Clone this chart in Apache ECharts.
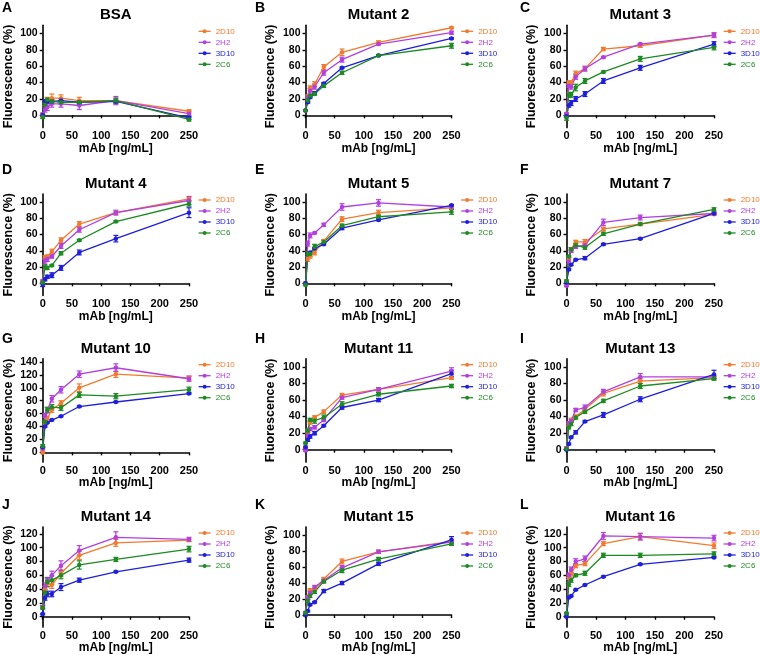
<!DOCTYPE html>
<html><head><meta charset="utf-8">
<script src="https://cdn.jsdelivr.net/npm/echarts@6/dist/echarts.min.js"></script>
<style>html,body{margin:0;padding:0;background:#fff}#c{width:760px;height:655px}</style>
</head><body><div id="c"></div>
<script>
const doses = [0, 3.9, 7.8, 15.6, 31.25, 62.5, 125, 250];
const antibodies = ['2D10', '2H2', '3D10', '2C6'];
const abColors = ['#F27A2E', '#B23FDF', '#1E1EDC', '#1D8A22'];
const panelTitles = ['BSA', 'Mutant 2', 'Mutant 3', 'Mutant 4', 'Mutant 5', 'Mutant 7', 'Mutant 10', 'Mutant 11', 'Mutant 13', 'Mutant 14', 'Mutant 15', 'Mutant 16'];
const panelLetters = ['A', 'B', 'C', 'D', 'E', 'F', 'G', 'H', 'I', 'J', 'K', 'L'];
const yTicks100 = [0, 20, 40, 60, 80, 100];
const yTicks120 = [0, 20, 40, 60, 80, 100, 120];
const yTicks140 = [0, 20, 40, 60, 80, 100, 120, 140];
const xTicks = [0, 50, 100, 150, 200, 250];
const yMin = -15;
const yMaxes = [110, 110, 110, 110, 110, 110, 145, 110, 110, 130, 110, 130];
const yTickSets = [yTicks100, yTicks100, yTicks100, yTicks100, yTicks100, yTicks100, yTicks140, yTicks100, yTicks100, yTicks120, yTicks100, yTicks120];

// means per panel: rows = 2D10, 2H2, 3D10, 2C6
const bsaMean = [[0,15,18,21,21,18,18,5],[1,7,10,14,14,12,18,2],[0,17,17,17,18,16,17,-3],[-2,13,19,17,16,16,18,-5]];
const bsaErr  = [[2,3,4,5,4,4,3,2],[2,3,4,4,4,5,5,3],[1,2,2,2,2,2,2,2],[2,2,2,2,2,2,3,2]];
const m2Mean  = [[6,23,33,38,59,77,89,107],[6,22,30,35,52,68,87,101],[6,16,22,27,39,58,73,94],[6,18,24,26,36,52,73,85]];
const m2Err   = [[1,2,3,3,3,4,2,1],[1,2,3,3,3,3,1,2],[1,1,1,2,1,1,1,1],[1,1,1,1,2,2,1,3]];
const m3Mean  = [[2,40,40,51,57,81,85,98],[2,36,35,47,57,71,87,98],[-1,12,15,20,26,42,58,87],[-3,25,25,34,42,53,69,83]];
const m3Err   = [[1,2,2,3,2,2,2,2],[1,2,3,3,3,1,1,3],[1,2,3,3,3,3,3,3],[3,3,3,4,3,1,3,3]];
const m4Mean  = [[3,32,33,39,53,73,87,104],[3,28,30,33,46,66,87,102],[-2,5,8,10,19,38,55,87],[1,20,19,22,37,53,76,98]];
const m4Err   = [[1,2,2,3,3,3,2,2],[1,3,3,2,3,3,3,5],[2,2,2,3,3,3,4,6],[1,3,2,1,2,1,1,3]];
const m5Mean  = [[0,30,34,38,52,79,87,93],[0,49,59,62,72,94,99,94],[0,36,38,43,48,68,78,96],[-2,36,36,45,51,71,82,88]];
const m5Err   = [[1,3,3,3,2,3,3,2],[1,3,3,1,2,4,4,2],[1,1,1,1,1,2,1,1],[1,3,3,3,2,2,2,3]];
const m7Mean  = [[3,30,42,51,51,67,73,85],[-3,27,40,45,47,75,81,86],[1,17,23,29,31,48,55,86],[3,33,42,47,44,61,73,91]];
const m7Err   = [[1,2,2,2,3,2,2,1],[1,3,2,2,2,4,3,2],[1,1,1,1,2,1,1,1],[1,1,2,2,2,2,1,2]];
const m10Mean = [[0,45,52,66,76,100,121,115],[6,57,65,83,97,121,131,114],[8,40,46,50,56,71,78,91],[10,47,66,70,69,89,87,97]];
const m10Err  = [[2,3,4,4,4,6,5,3],[2,3,4,5,5,5,6,4],[1,1,1,1,1,1,1,1],[2,3,4,4,4,4,4,4]];
const m11Mean = [[3,22,33,39,46,66,73,87],[-1,17,25,27,36,63,73,95],[3,12,16,20,29,51,60,92],[8,23,36,35,39,55,67,77]];
const m11Err  = [[1,2,2,2,2,2,2,2],[1,2,2,2,2,2,2,4],[1,2,2,2,1,2,2,4],[1,2,2,3,3,3,2,2]];
const m13Mean = [[2,30,36,40,49,68,83,87],[2,32,35,48,51,70,88,88],[0,7,15,21,34,42,61,91],[1,27,31,39,46,59,77,86]];
const m13Err  = [[1,2,2,2,2,3,3,2],[1,2,2,2,3,3,4,2],[1,1,1,2,1,3,3,5],[1,2,2,2,2,2,3,2]];
const m14Mean = [[14,40,48,46,63,89,107,111],[14,44,52,60,74,96,115,112],[4,27,33,33,43,53,65,82],[13,35,50,53,60,75,83,98]];
const m14Err  = [[2,4,5,5,5,6,5,2],[2,5,5,6,7,7,8,3],[1,3,4,4,5,3,1,3],[2,5,6,6,5,6,3,4]];
const m15Mean = [[3,22,31,32,45,67,79,92],[3,22,28,35,43,59,79,91],[0,5,13,16,30,40,64,94],[3,18,24,29,42,56,70,89]];
const m15Err  = [[1,2,2,2,2,3,2,2],[1,2,2,2,2,3,2,2],[1,1,1,1,2,2,2,4],[1,2,2,2,2,3,2,2]];
const m16Mean = [[5,57,62,74,77,106,116,103],[5,60,68,80,84,117,116,114],[0,28,30,39,46,58,76,86],[5,47,53,60,63,89,89,91]];
const m16Err  = [[1,3,3,3,3,3,4,4],[1,3,4,4,4,5,5,4],[1,1,1,1,1,1,1,1],[1,3,3,2,3,3,3,3]];

const panelMeans = [bsaMean, m2Mean, m3Mean, m4Mean, m5Mean, m7Mean, m10Mean, m11Mean, m13Mean, m14Mean, m15Mean, m16Mean];
const panelErrs = [bsaErr, m2Err, m3Err, m4Err, m5Err, m7Err, m10Err, m11Err, m13Err, m14Err, m15Err, m16Err];

// layout
const colLeft = [42.7, 305.5, 566.5];
const colWidth = [146.3, 146, 147.5];
const rowTop = [25.3, 194, 358.7, 527];
const rowHeight = [102.3, 101.5, 103.4, 101.2];
const letterX = [2, 255, 520];
const letterY = [8, 170, 339.5, 505];
const FONT = '"Liberation Sans", Arial, sans-serif';

const grids = [], xAxes = [], yAxes = [], series = [], legends = [], graphics = [];
for (let p = 0; p < 12; p++) {
  const r = Math.floor(p / 3), c = p % 3;
  const left = colLeft[c], top = rowTop[r], w = colWidth[c], h = rowHeight[r];
  grids.push({left: left, top: top, width: w, height: h});
  xAxes.push({
    gridIndex: p, type: 'value', min: 0, max: 250, interval: 50,
    name: 'mAb [ng/mL]', nameLocation: 'middle', nameGap: 14,
    nameTextStyle: {fontFamily: FONT, fontWeight: 'bold', fontSize: 12, color: '#000'},
    axisLine: {lineStyle: {color: '#000', width: 1.6}},
    axisTick: {show: true, length: 3, lineStyle: {color: '#000', width: 1.4}},
    axisLabel: {fontFamily: FONT, fontWeight: 'bold', fontSize: 11, color: '#000', margin: 3},
    splitLine: {show: false}
  });
  yAxes.push({
    gridIndex: p, type: 'value', min: yMin, max: yMaxes[p],
    name: 'Fluorescence (%)', nameLocation: 'middle', nameGap: 28,
    nameTextStyle: {fontFamily: FONT, fontWeight: 'bold', fontSize: 12.5, color: '#000'},
    axisLine: {show: true, lineStyle: {color: '#000', width: 1.6}},
    axisTick: {show: true, length: 3, customValues: yTickSets[p], lineStyle: {color: '#000', width: 1.4}},
    axisLabel: {fontFamily: FONT, fontWeight: 'bold', fontSize: 10.5, color: '#000', margin: 5, customValues: yTickSets[p]},
    splitLine: {show: false}
  });
  for (let s = 0; s < 4; s++) {
    const mean = panelMeans[p][s], err = panelErrs[p][s];
    const col = abColors[s];
    series.push({
      type: 'custom', xAxisIndex: p, yAxisIndex: p, silent: true, z: 1,
      name: 'err-' + antibodies[s],
      itemStyle: {color: col},
      data: doses.map((d, i) => [d, mean[i] - err[i], mean[i] + err[i]]),
      renderItem: (params, api) => {
        const x = api.value(0);
        const a = api.coord([x, api.value(1)]), b = api.coord([x, api.value(2)]);
        const cw = 2.5;
        const st = {stroke: col, lineWidth: 1.2};
        return {type: 'group', children: [
          {type: 'line', shape: {x1: a[0], y1: a[1], x2: b[0], y2: b[1]}, style: st},
          {type: 'line', shape: {x1: a[0] - cw, y1: a[1], x2: a[0] + cw, y2: a[1]}, style: st},
          {type: 'line', shape: {x1: b[0] - cw, y1: b[1], x2: b[0] + cw, y2: b[1]}, style: st}
        ]};
      }
    });
    series.push({
      type: 'line', name: antibodies[s], xAxisIndex: p, yAxisIndex: p, z: 2,
      data: doses.map((d, i) => [d, mean[i]]),
      symbol: 'circle', symbolSize: 4.5, showSymbol: true,
      itemStyle: {color: col}, lineStyle: {color: col, width: 1.3},
      emphasis: {disabled: true}
    });
  }
  legends.push({
    orient: 'vertical', left: left + w + 9, top: top + 1.5,
    itemWidth: 12, itemHeight: 5, itemGap: 2, padding: 0,
    selectedMode: false,
    data: antibodies.map((n, s) => ({name: n, itemStyle: {color: abColors[s]}, lineStyle: {color: abColors[s], width: 1.3}, textStyle: {color: abColors[s]}})),
    textStyle: {fontFamily: FONT, fontSize: 8, lineHeight: 9}
  });
  graphics.push({
    type: 'text', x: left + w / 2, y: top - 10,
    style: {text: panelTitles[p], x: 0, y: 0, align: 'center', verticalAlign: 'middle',
      font: 'bold 15px ' + FONT, fill: '#000'}
  });
  graphics.push({
    type: 'text', x: letterX[c], y: letterY[r],
    style: {text: panelLetters[p], x: 0, y: 0, align: 'left', verticalAlign: 'middle',
      font: 'bold 14px ' + FONT, fill: '#000'}
  });
}

const chart = echarts.init(document.getElementById('c'), null, {renderer: 'canvas'});
chart.setOption({
  animation: false,
  backgroundColor: '#fff',
  grid: grids, xAxis: xAxes, yAxis: yAxes, series: series, legend: legends,
  graphic: graphics
});
</script></body></html>
